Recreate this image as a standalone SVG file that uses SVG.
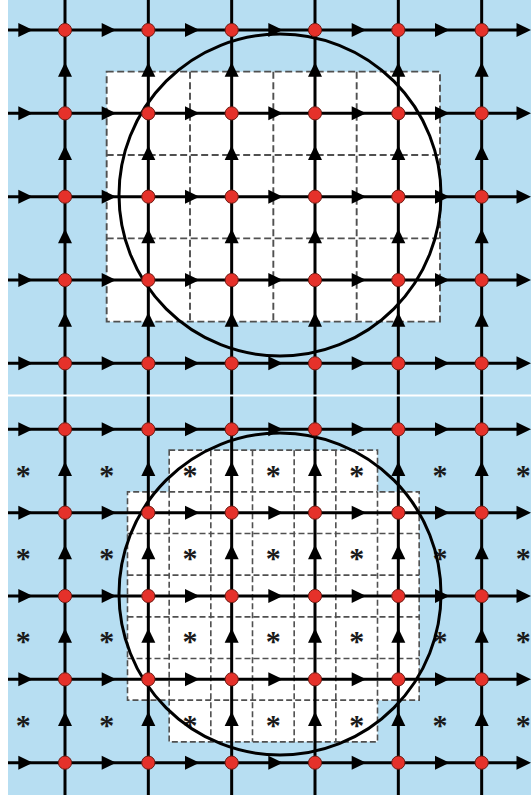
<svg xmlns="http://www.w3.org/2000/svg" xmlns:xlink="http://www.w3.org/1999/xlink" width="531" height="798" viewBox="0 0 531 798">
<style>
.bg{fill:#b7def2}
.cell{fill:#ffffff}
.dash{fill:none;stroke:#505050;stroke-width:1.9;stroke-dasharray:7 3.5}
.fine{fill:none;stroke:#505050;stroke-width:1.6;stroke-dasharray:6 3}
.ln{stroke:#000;stroke-width:3;fill:none}
.ah{fill:#000}
.ring{fill:none;stroke:#000;stroke-width:3}
.node{fill:#e5312a;stroke:#6e1a12;stroke-width:1}
.star{font-family:"Liberation Serif","DejaVu Serif",serif;font-weight:bold;font-size:30px;fill:#1a1a1a;text-anchor:middle}
</style>
<defs>
<polygon id="ar" class="ah" points="-5,-7 9.5,0 -5,7"/>
<polygon id="au" class="ah" points="-7,5 0,-9.5 7,5"/>
<g id="hrow">
<line class="ln" x1="8" y1="0" x2="524" y2="0"/>
<use href="#ar" x="23.33"/><use href="#ar" x="106.67"/><use href="#ar" x="190"/><use href="#ar" x="273.33"/><use href="#ar" x="356.67"/><use href="#ar" x="440"/><use href="#ar" x="521.5"/>
</g>
<g id="vcol">
<use href="#au" y="0"/><use href="#au" y="83.33"/><use href="#au" y="166.67"/><use href="#au" y="250"/>
</g>
<circle id="nd" class="node" r="6.6"/>
</defs>

<!-- backgrounds -->
<rect x="0" y="0" width="531" height="798" fill="#ffffff"/>
<rect class="bg" x="8" y="0" width="523" height="394.5"/>
<rect class="bg" x="8" y="396.5" width="523" height="398.5"/>

<!-- top panel refined region -->
<g id="region-top">
<rect class="cell" x="106.67" y="71.67" width="333.33" height="250"/>
<rect class="dash" x="106.67" y="71.67" width="333.33" height="250"/>
<path class="dash" d="M190,71.67V321.67M273.33,71.67V321.67M356.67,71.67V321.67M106.67,155H440M106.67,238.33H440"/>
</g>

<!-- bottom panel refined region -->
<g id="region-bottom">
<path class="cell" d="M169.17,450.17H377.5V491.83H419.17V700.17H377.5V741.83H169.17V700.17H127.5V491.83H169.17Z"/>
<path class="fine" d="M169.17,450.17H377.5V491.83H419.17V700.17H377.5V741.83H169.17V700.17H127.5V491.83H169.17Z"/>
<path class="fine" d="M169.17,491.83V700.17M210.83,450.17V741.83M252.5,450.17V741.83M294.17,450.17V741.83M335.83,450.17V741.83M377.5,491.83V700.17M169.17,491.83H377.5M127.5,533.5H419.17M127.5,575.17H419.17M127.5,616.83H419.17M127.5,658.5H419.17M169.17,700.17H377.5"/>
</g>

<!-- cell markers -->
<g id="stars">
<text class="star" x="23.33" y="484.5">*</text><text class="star" x="106.67" y="484.5">*</text><text class="star" x="190" y="484.5">*</text><text class="star" x="273.33" y="484.5">*</text><text class="star" x="356.67" y="484.5">*</text><text class="star" x="440" y="484.5">*</text><text class="star" x="523.33" y="484.5">*</text>
<text class="star" x="23.33" y="567.83">*</text><text class="star" x="106.67" y="567.83">*</text><text class="star" x="190" y="567.83">*</text><text class="star" x="273.33" y="567.83">*</text><text class="star" x="356.67" y="567.83">*</text><text class="star" x="440" y="567.83">*</text><text class="star" x="523.33" y="567.83">*</text>
<text class="star" x="23.33" y="651.17">*</text><text class="star" x="106.67" y="651.17">*</text><text class="star" x="190" y="651.17">*</text><text class="star" x="273.33" y="651.17">*</text><text class="star" x="356.67" y="651.17">*</text><text class="star" x="440" y="651.17">*</text><text class="star" x="523.33" y="651.17">*</text>
<text class="star" x="23.33" y="734.5">*</text><text class="star" x="106.67" y="734.5">*</text><text class="star" x="190" y="734.5">*</text><text class="star" x="273.33" y="734.5">*</text><text class="star" x="356.67" y="734.5">*</text><text class="star" x="440" y="734.5">*</text><text class="star" x="523.33" y="734.5">*</text>
</g>

<!-- connectors -->
<g id="connectors">
<path class="ln" d="M65,0V394.5M148.33,0V394.5M231.67,0V394.5M315,0V394.5M398.33,0V394.5M481.67,0V394.5"/>
<path class="ln" d="M65,396.5V795M148.33,396.5V795M231.67,396.5V795M315,396.5V795M398.33,396.5V795M481.67,396.5V795"/>
<use href="#hrow" y="30"/><use href="#hrow" y="113.33"/><use href="#hrow" y="196.67"/><use href="#hrow" y="280"/><use href="#hrow" y="363.33"/>
<use href="#hrow" y="429.33"/><use href="#hrow" y="512.67"/><use href="#hrow" y="596"/><use href="#hrow" y="679.33"/><use href="#hrow" y="762.67"/>
<use href="#vcol" x="65" y="71.67"/><use href="#vcol" x="148.33" y="71.67"/><use href="#vcol" x="231.67" y="71.67"/><use href="#vcol" x="315" y="71.67"/><use href="#vcol" x="398.33" y="71.67"/><use href="#vcol" x="481.67" y="71.67"/>
<use href="#vcol" x="65" y="471"/><use href="#vcol" x="148.33" y="471"/><use href="#vcol" x="231.67" y="471"/><use href="#vcol" x="315" y="471"/><use href="#vcol" x="398.33" y="471"/><use href="#vcol" x="481.67" y="471"/>
</g>

<!-- circles -->
<circle id="circle-top" class="ring" cx="280" cy="195" r="161"/>
<circle id="circle-bottom" class="ring" cx="280" cy="594" r="161"/>

<!-- top panel nodes -->
<g id="t-r0c0"><use href="#nd" x="65" y="30"/></g><g id="t-r0c1"><use href="#nd" x="148.33" y="30"/></g><g id="t-r0c2"><use href="#nd" x="231.67" y="30"/></g><g id="t-r0c3"><use href="#nd" x="315" y="30"/></g><g id="t-r0c4"><use href="#nd" x="398.33" y="30"/></g><g id="t-r0c5"><use href="#nd" x="481.67" y="30"/></g>
<g id="t-r1c0"><use href="#nd" x="65" y="113.33"/></g><g id="t-r1c1"><use href="#nd" x="148.33" y="113.33"/></g><g id="t-r1c2"><use href="#nd" x="231.67" y="113.33"/></g><g id="t-r1c3"><use href="#nd" x="315" y="113.33"/></g><g id="t-r1c4"><use href="#nd" x="398.33" y="113.33"/></g><g id="t-r1c5"><use href="#nd" x="481.67" y="113.33"/></g>
<g id="t-r2c0"><use href="#nd" x="65" y="196.67"/></g><g id="t-r2c1"><use href="#nd" x="148.33" y="196.67"/></g><g id="t-r2c2"><use href="#nd" x="231.67" y="196.67"/></g><g id="t-r2c3"><use href="#nd" x="315" y="196.67"/></g><g id="t-r2c4"><use href="#nd" x="398.33" y="196.67"/></g><g id="t-r2c5"><use href="#nd" x="481.67" y="196.67"/></g>
<g id="t-r3c0"><use href="#nd" x="65" y="280"/></g><g id="t-r3c1"><use href="#nd" x="148.33" y="280"/></g><g id="t-r3c2"><use href="#nd" x="231.67" y="280"/></g><g id="t-r3c3"><use href="#nd" x="315" y="280"/></g><g id="t-r3c4"><use href="#nd" x="398.33" y="280"/></g><g id="t-r3c5"><use href="#nd" x="481.67" y="280"/></g>
<g id="t-r4c0"><use href="#nd" x="65" y="363.33"/></g><g id="t-r4c1"><use href="#nd" x="148.33" y="363.33"/></g><g id="t-r4c2"><use href="#nd" x="231.67" y="363.33"/></g><g id="t-r4c3"><use href="#nd" x="315" y="363.33"/></g><g id="t-r4c4"><use href="#nd" x="398.33" y="363.33"/></g><g id="t-r4c5"><use href="#nd" x="481.67" y="363.33"/></g>

<!-- bottom panel nodes -->
<g id="b-r0c0"><use href="#nd" x="65" y="429.33"/></g><g id="b-r0c1"><use href="#nd" x="148.33" y="429.33"/></g><g id="b-r0c2"><use href="#nd" x="231.67" y="429.33"/></g><g id="b-r0c3"><use href="#nd" x="315" y="429.33"/></g><g id="b-r0c4"><use href="#nd" x="398.33" y="429.33"/></g><g id="b-r0c5"><use href="#nd" x="481.67" y="429.33"/></g>
<g id="b-r1c0"><use href="#nd" x="65" y="512.67"/></g><g id="b-r1c1"><use href="#nd" x="148.33" y="512.67"/></g><g id="b-r1c2"><use href="#nd" x="231.67" y="512.67"/></g><g id="b-r1c3"><use href="#nd" x="315" y="512.67"/></g><g id="b-r1c4"><use href="#nd" x="398.33" y="512.67"/></g><g id="b-r1c5"><use href="#nd" x="481.67" y="512.67"/></g>
<g id="b-r2c0"><use href="#nd" x="65" y="596"/></g><g id="b-r2c1"><use href="#nd" x="148.33" y="596"/></g><g id="b-r2c2"><use href="#nd" x="231.67" y="596"/></g><g id="b-r2c3"><use href="#nd" x="315" y="596"/></g><g id="b-r2c4"><use href="#nd" x="398.33" y="596"/></g><g id="b-r2c5"><use href="#nd" x="481.67" y="596"/></g>
<g id="b-r3c0"><use href="#nd" x="65" y="679.33"/></g><g id="b-r3c1"><use href="#nd" x="148.33" y="679.33"/></g><g id="b-r3c2"><use href="#nd" x="231.67" y="679.33"/></g><g id="b-r3c3"><use href="#nd" x="315" y="679.33"/></g><g id="b-r3c4"><use href="#nd" x="398.33" y="679.33"/></g><g id="b-r3c5"><use href="#nd" x="481.67" y="679.33"/></g>
<g id="b-r4c0"><use href="#nd" x="65" y="762.67"/></g><g id="b-r4c1"><use href="#nd" x="148.33" y="762.67"/></g><g id="b-r4c2"><use href="#nd" x="231.67" y="762.67"/></g><g id="b-r4c3"><use href="#nd" x="315" y="762.67"/></g><g id="b-r4c4"><use href="#nd" x="398.33" y="762.67"/></g><g id="b-r4c5"><use href="#nd" x="481.67" y="762.67"/></g>
</svg>
